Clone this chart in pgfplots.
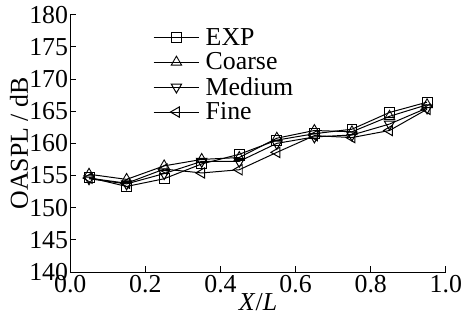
\documentclass[border=0pt]{standalone}
\usepackage{pgfplots}
\pgfplotsset{compat=1.18}
\usepackage{fontspec}
\setmainfont{Liberation Serif}
\begin{document}
\begin{tikzpicture}[font=\fontsize{26}{30}\selectfont]
\begin{axis}[
  scale only axis,
  width=378pt, height=259pt,
  xmin=0, xmax=1.0, ymin=140, ymax=180,
  axis lines=left,
  axis line style={-, line width=1pt},
  xtick={0,0.2,0.4,0.6,0.8,1.0},
  ytick={140,145,...,180},
  xticklabel style={inner sep=0pt, yshift=-3pt, /pgf/number format/.cd, fixed, fixed zerofill, precision=1},
  /pgf/number format/assume math mode=true,
  tick align=inside,
  major tick length=6pt,
  tick style={line width=1pt, black},
  yticklabel style={inner sep=0pt, xshift=-2pt},
  xlabel={\textit{X}/\textit{L}},
  ylabel={OASPL / dB},
  xlabel style={inner sep=0pt, yshift=-1pt},
  ylabel style={inner sep=0pt, yshift=1pt},
  legend style={draw=none, fill=none, at={(0.22,0.955)}, anchor=north west, row sep=2pt, font=\fontsize{26}{30}\selectfont, inner sep=0pt, /tikz/every odd column/.append style={column sep=4pt}},
  legend cell align=left,
  legend image code/.code={\draw[mark repeat=2,mark phase=2] plot coordinates {(0pt,0pt) (23pt,0pt) (46pt,0pt)};},
  every axis plot/.append style={black, line width=1pt, mark options={solid, fill=white, line width=0.9pt}},
]
\addplot[mark=square, mark size=5pt] coordinates {
(0.05,154.7) (0.15,153.3) (0.25,154.5) (0.35,156.8) (0.45,158.3) (0.55,160.5) (0.65,161.5) (0.75,162.2) (0.85,164.8) (0.95,166.4)};
\addlegendentry{EXP}
\addplot[mark=triangle, mark size=6pt] coordinates {
(0.05,155.2) (0.15,154.4) (0.25,156.5) (0.35,157.5) (0.45,157.8) (0.55,160.8) (0.65,162.0) (0.75,161.8) (0.85,164.2) (0.95,166.0)};
\addlegendentry{Coarse}
\addplot[mark=triangle, mark size=6pt, mark options={rotate=180}] coordinates {
(0.05,154.5) (0.15,153.7) (0.25,155.3) (0.35,157.2) (0.45,157.2) (0.55,160.0) (0.65,161.0) (0.75,161.3) (0.85,163.0) (0.95,165.5)};
\addlegendentry{Medium}
\addplot[mark=triangle, mark size=6pt, mark options={rotate=90}] coordinates {
(0.05,154.6) (0.15,153.8) (0.25,156.0) (0.35,155.4) (0.45,155.9) (0.55,158.6) (0.65,161.2) (0.75,160.9) (0.85,162.0) (0.95,165.3)};
\addlegendentry{Fine}
\end{axis}
\path ([xshift=-10pt]current bounding box.west) ([yshift=6pt]current bounding box.north);
\end{tikzpicture}
\end{document}
